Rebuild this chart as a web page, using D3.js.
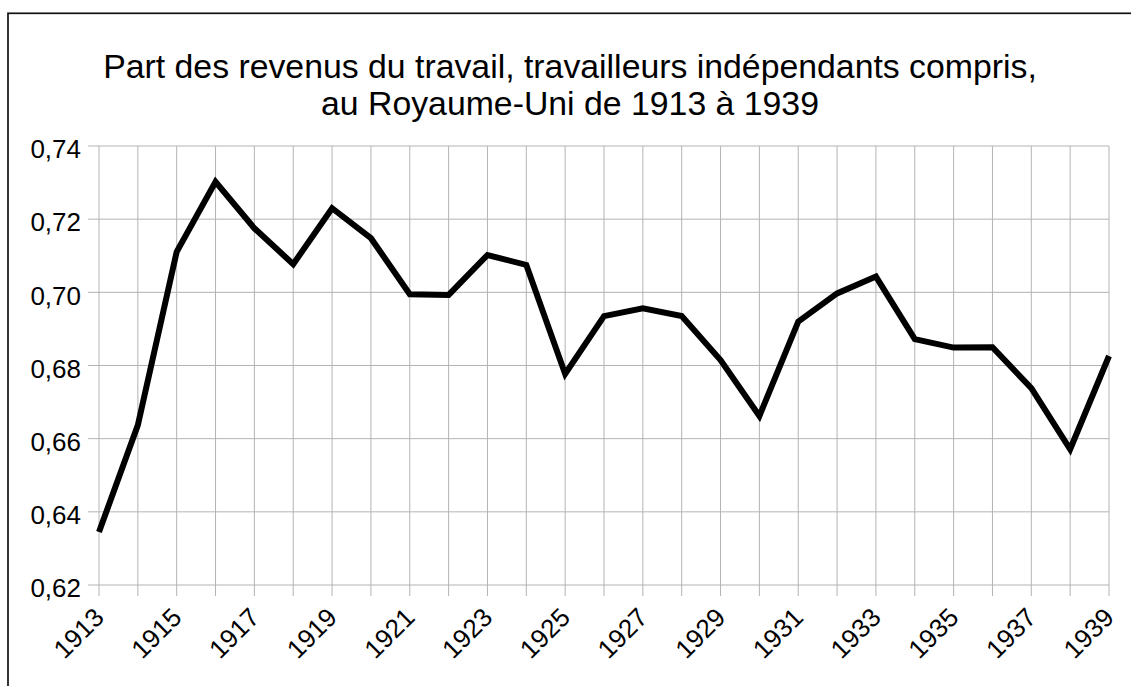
<!DOCTYPE html>
<html><head><meta charset="utf-8">
<script src="https://cdn.jsdelivr.net/npm/d3@7"></script>
<style>body{margin:0;background:#fff}svg{display:block}text{font-family:"Liberation Sans",Arial,sans-serif;fill:#000}</style>
</head><body><svg id="c" width="1131" height="686"></svg>
<script>
const years = [1913,1914,1915,1916,1917,1918,1919,1920,1921,1922,1923,1924,1925,1926,1927,1928,1929,1930,1931,1932,1933,1934,1935,1936,1937,1938,1939];
const shares = [0.6345,0.6637,0.7111,0.7302,0.7175,0.7077,0.7230,0.7148,0.6995,0.6993,0.7102,0.7075,0.6777,0.6935,0.6956,0.6935,0.6815,0.6662,0.6920,0.6997,0.7043,0.6872,0.6849,0.6850,0.6738,0.6571,0.6826];
const yTicks = [0.62,0.64,0.66,0.68,0.70,0.72,0.74];
const xTickYears = [1913,1915,1917,1919,1921,1923,1925,1927,1929,1931,1933,1935,1937,1939];
const titleLines = ["Part des revenus du travail, travailleurs indépendants compris,","au Royaume-Uni de 1913 à 1939"];

const svg = d3.select("#c");
svg.append("rect").attr("x",8).attr("y",13.3).attr("width",1200).attr("height",800)
  .attr("fill","none").attr("stroke","#111").attr("stroke-width",1.7);

const x = d3.scaleLinear().domain([1913,1939]).range([99,1109]);
const y = d3.scaleLinear().domain([0.62,0.74]).range([585,146]);

// grid
svg.append("g").selectAll("line").data(years).join("line")
  .attr("x1",d=>x(d)).attr("x2",d=>x(d)).attr("y1",y(0.74)).attr("y2",y(0.62)+11)
  .attr("stroke","#b3b3b3").attr("stroke-width",1);
svg.append("g").selectAll("line").data(yTicks).join("line")
  .attr("x1",x(1913)-11).attr("x2",x(1939)).attr("y1",d=>y(d)).attr("y2",d=>y(d))
  .attr("stroke","#b3b3b3").attr("stroke-width",1);

const fmt = d=>d3.format(".2f")(d).replace(".",",");
const ya = svg.append("g").attr("transform",`translate(${x(1913)},0)`)
  .call(d3.axisLeft(y).tickValues(yTicks).tickFormat(fmt).tickSize(0).tickPadding(18));
ya.select(".domain").remove();
ya.selectAll("text").style("font-size","26px").attr("fill","#000").attr("dy","0.45em");

const xa = svg.append("g").attr("transform",`translate(0,${y(0.62)})`)
  .call(d3.axisBottom(x).tickValues(xTickYears).tickFormat(d3.format("d")).tickSize(0));
xa.select(".domain").remove();
xa.selectAll("text").style("font-size","26px").attr("fill","#000")
  .attr("text-anchor","end").attr("dy",null).attr("y",0)
  .attr("transform","translate(6,34) rotate(-45)");

// line
svg.append("path").datum(years.map((d,i)=>[d,shares[i]]))
  .attr("d",d3.line().x(d=>x(d[0])).y(d=>y(d[1])))
  .attr("fill","none").attr("stroke","#000").attr("stroke-width",6).attr("stroke-linejoin","miter");

// title
const t = svg.append("text").attr("text-anchor","middle").style("font-size","33.8px");
titleLines.forEach((l,i)=>t.append("tspan").attr("x",570).attr("y",78+i*37).text(l));
</script></body></html>
